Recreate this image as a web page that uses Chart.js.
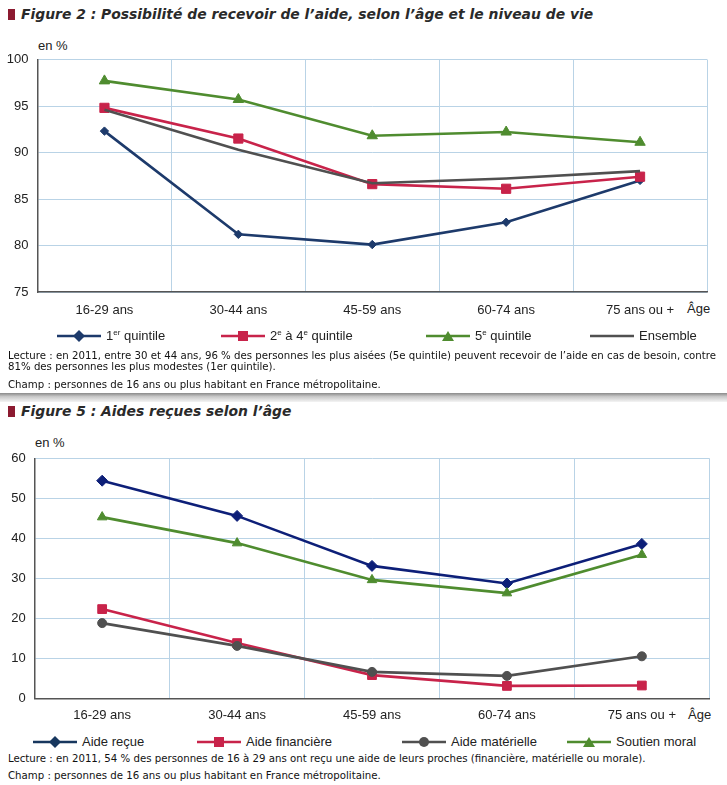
<!DOCTYPE html>
<html>
<head>
<meta charset="utf-8">
<script src="https://cdn.jsdelivr.net/npm/chart.js@4.4.0/dist/chart.umd.min.js"></script>
<style>
  html, body { margin: 0; padding: 0; background: #fff; }
  #page { position: relative; width: 727px; height: 785px; overflow: hidden; background: #fff; }
  .abs { position: absolute; white-space: nowrap; }
  .title { font-family: "DejaVu Sans", Verdana, sans-serif; font-weight: bold; font-style: italic; font-size: 13.9px; color: #2a2a2a; }
  .sq { position: absolute; width: 7px; height: 11px; background: #8c1a30; }
  .narrow { font-family: "Liberation Sans Narrow", "Liberation Sans", Arial, sans-serif; font-size: 13px; color: #222; }
  .note { font-family: "DejaVu Sans", Verdana, sans-serif; font-size: 10.2px; color: #111; }
  .leg { position: absolute; display: flex; align-items: center; }
  .leg svg { display: block; }
  canvas { position: absolute; }
</style>
</head>
<body>
<div id="page">
  <div class="sq" style="left:8px;top:9px;"></div>
  <div class="abs title" style="left:21px;top:6px;">Figure 2 : Possibilité de recevoir de l’aide, selon l’âge et le niveau de vie</div>
  <div class="abs narrow" style="left:38px;top:38px;">en %</div>
  <div class="abs narrow" style="left:687px;top:301px;">Âge</div>
  <canvas id="c1" width="727" height="300" style="left:0;top:30px;width:727px;height:300px;"></canvas>
  <div id="leg1"></div>
  <div class="abs note" style="left:8px;top:350px;">Lecture : en 2011, entre 30 et 44 ans, 96 % des personnes les plus aisées (5e quintile) peuvent recevoir de l’aide en cas de besoin, contre</div>
  <div class="abs note" style="left:8px;top:361px;">81% des personnes les plus modestes (1er quintile).</div>
  <div class="abs note" style="left:8px;top:379px;">Champ : personnes de 16 ans ou plus habitant en France métropolitaine.</div>

  <div class="abs" style="left:0;top:393px;width:727px;height:9px;background:linear-gradient(#8a8a8a,#c8c8c8 40%,#f4f4f4);"></div>

  <div class="sq" style="left:8px;top:406px;"></div>
  <div class="abs title" style="left:21px;top:403px;">Figure 5 : Aides reçues selon l’âge</div>
  <div class="abs narrow" style="left:35px;top:435px;">en %</div>
  <div class="abs narrow" style="left:688px;top:707px;">Âge</div>
  <canvas id="c2" width="727" height="305" style="left:0;top:420px;width:727px;height:305px;"></canvas>
  <div id="leg2"></div>
  <div class="abs note" style="left:8px;top:753px;">Lecture : en 2011, 54 % des personnes de 16 à 29 ans ont reçu une aide de leurs proches (financière, matérielle ou morale).</div>
  <div class="abs note" style="left:8px;top:770px;">Champ : personnes de 16 ans ou plus habitant en France métropolitaine.</div>
</div>
<script>
// ---------- DATA ----------
const categories = ['16-29 ans', '30-44 ans', '45-59 ans', '60-74 ans', '75 ans ou +'];

// Figure 2 (en %)
const fig2Ticks = [75, 80, 85, 90, 95, 100];
const quintile1 = [92.3, 81.2, 80.1, 82.5, 87.0];
const quintile2to4 = [94.8, 91.5, 86.6, 86.1, 87.4];
const quintile5 = [97.7, 95.7, 91.8, 92.2, 91.1];
const ensemble = [94.6, 90.3, 86.7, 87.2, 88.0];

// Figure 5 (en %)
const fig5Ticks = [0, 10, 20, 30, 40, 50, 60];
const aideRecue = [54.4, 45.6, 33.1, 28.7, 38.6];
const aideFinanciere = [22.3, 13.8, 5.8, 3.1, 3.2];
const aideMaterielle = [18.8, 13.1, 6.6, 5.6, 10.5];
const soutienMoral = [45.3, 38.8, 29.6, 26.3, 35.9];

// ---------- STYLE ----------
const C = {
  navy: '#1d3a6b', navy2: '#0d1f78', red: '#c8234a', green: '#4f8c2f', grey: '#505050',
  grid: '#b9d3e6', axis: '#555555'
};
const tickFont = { family: '"Liberation Sans Narrow", "Liberation Sans", Arial, sans-serif', size: 13 };

function ds(label, data, color, style, radius, width) {
  return {
    label, data, borderColor: color, backgroundColor: color,
    pointBackgroundColor: color, pointBorderColor: color,
    pointStyle: style || 'circle', pointRadius: radius, pointHoverRadius: radius,
    borderWidth: width || 2.6, pointBorderWidth: 1, tension: 0, clip: false
  };
}

function makeOptions(ticks, yWidth, xHeight, pad, xPad) {
  return {
    responsive: false, animation: false, devicePixelRatio: 1,
    layout: { padding: pad },
    plugins: { legend: { display: false }, tooltip: { enabled: false } },
    scales: {
      x: {
        type: 'category', offset: true,
        grid: { offset: true, color: C.grid, lineWidth: 1, drawTicks: false },
        border: { color: C.axis, width: 1.5 },
        ticks: { font: tickFont, color: '#222', padding: xPad, maxRotation: 0, autoSkip: false },
        afterFit: s => { s.height = xHeight; }
      },
      y: {
        min: ticks[0], max: ticks[ticks.length - 1],
        afterBuildTicks: s => { s.ticks = ticks.map(v => ({ value: v })); },
        grid: { color: C.grid, lineWidth: 1, drawTicks: false },
        border: { color: C.axis, width: 1.5 },
        ticks: { font: tickFont, color: '#222', padding: 9 },
        afterFit: s => { s.width = yWidth; }
      }
    }
  };
}

new Chart(document.getElementById('c1'), {
  type: 'line',
  data: {
    labels: categories,
    datasets: [
      ds('Ensemble', ensemble, C.grey, 'circle', 0, 2.6),
      ds('5e quintile', quintile5, C.green, 'triangle', 6),
      ds('2e à 4e quintile', quintile2to4, C.red, 'rect', 6.5),
      ds('1er quintile', quintile1, C.navy, 'rectRot', 4.2)
    ]
  },
  options: makeOptions(fig2Ticks, 37.5, 30, { top: 29.5, right: 20, bottom: 8, left: 0 }, 11)
});

new Chart(document.getElementById('c2'), {
  type: 'line',
  data: {
    labels: categories,
    datasets: [
      ds('Aide matérielle', aideMaterielle, C.grey, 'circle', 4.5),
      ds('Aide financière', aideFinanciere, C.red, 'rect', 6.2),
      ds('Soutien moral', soutienMoral, C.green, 'triangle', 5.5),
      ds('Aide reçue', aideRecue, C.navy2, 'rectRot', 5.5)
    ]
  },
  options: makeOptions(fig5Ticks, 34.7, 26.7, { top: 38.3, right: 17.7, bottom: 0, left: 0 }, 9)
});

// ---------- LEGENDS (HTML) ----------
function icon(color, shape) {
  let m = '';
  if (shape === 'diamond') m = `<polygon points="22,1 28,7 22,13 16,7" fill="${color}"/>`;
  if (shape === 'square') m = `<rect x="17" y="2" width="10" height="10" fill="${color}"/>`;
  if (shape === 'triangle') m = `<polygon points="22,2 28,12 16,12" fill="${color}"/>`;
  if (shape === 'circle') m = `<circle cx="22" cy="7" r="5" fill="${color}"/>`;
  return `<svg width="44" height="14"><line x1="0" y1="7" x2="44" y2="7" stroke="${color}" stroke-width="2.6"/>${m}</svg>`;
}
function legend(el, top, items) {
  el.innerHTML = items.map(it =>
    `<div class="leg narrow" style="left:${it.x}px;top:${top}px;">${icon(it.color, it.shape)}<span style="margin-left:5px;">${it.label}</span></div>`
  ).join('');
}
legend(document.getElementById('leg1'), 328, [
  { x: 57, color: C.navy, shape: 'diamond', label: '1<sup style="font-size:8px">er</sup> quintile' },
  { x: 221, color: C.red, shape: 'square', label: '2<sup style="font-size:8px">e</sup> à 4<sup style="font-size:8px">e</sup> quintile' },
  { x: 426, color: C.green, shape: 'triangle', label: '5<sup style="font-size:8px">e</sup> quintile' },
  { x: 590, color: C.grey, shape: 'none', label: 'Ensemble' }
]);
legend(document.getElementById('leg2'), 734, [
  { x: 33, color: '#17375e', shape: 'diamond', label: 'Aide reçue' },
  { x: 197, color: C.red, shape: 'square', label: 'Aide financière' },
  { x: 402, color: C.grey, shape: 'circle', label: 'Aide matérielle' },
  { x: 567, color: C.green, shape: 'triangle', label: 'Soutien moral' }
]);
</script>
</body>
</html>
